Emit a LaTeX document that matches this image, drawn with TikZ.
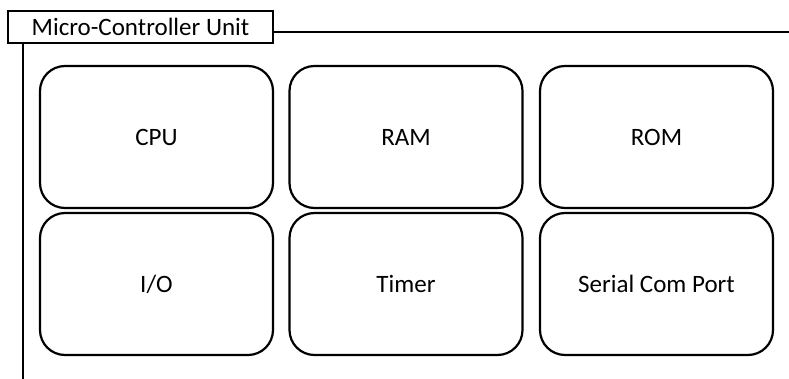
\documentclass[tikz,border=0pt]{standalone}
\usepackage{fontspec}
\setmainfont{Carlito}
\begin{document}
\begin{tikzpicture}[x=1pt,y=-1pt,
  unit/.style={draw,line width=2.2pt,rounded corners=25pt,minimum width=233pt,minimum height=142pt,inner sep=0pt,font=\fontsize{25}{28}\selectfont},
  titlebox/.style={draw,line width=2pt,minimum width=265pt,minimum height=32pt,inner sep=0pt,font=\fontsize{25}{28}\selectfont}]
\useasboundingbox (0,0) rectangle (789,379);
\node[titlebox] (title) at (140.5,27) {Micro-Controller Unit};
\coordinate (rend) at (789,32);
\coordinate (bend) at (23,379);
\draw[line width=2pt] (title.east |- rend) -- (rend);
\draw[line width=2pt] (title.south -| bend) -- (bend);
\node[unit] (cpu) at (156.5,137) {CPU};
\node[unit] (ram) at (406,137) {RAM};
\node[unit] (rom) at (656.5,137) {ROM};
\node[unit] (io) at (156.5,284) {I/O};
\node[unit] (timer) at (406,284) {Timer};
\node[unit] (serial) at (656.5,284) {Serial Com Port};
\end{tikzpicture}
\end{document}
